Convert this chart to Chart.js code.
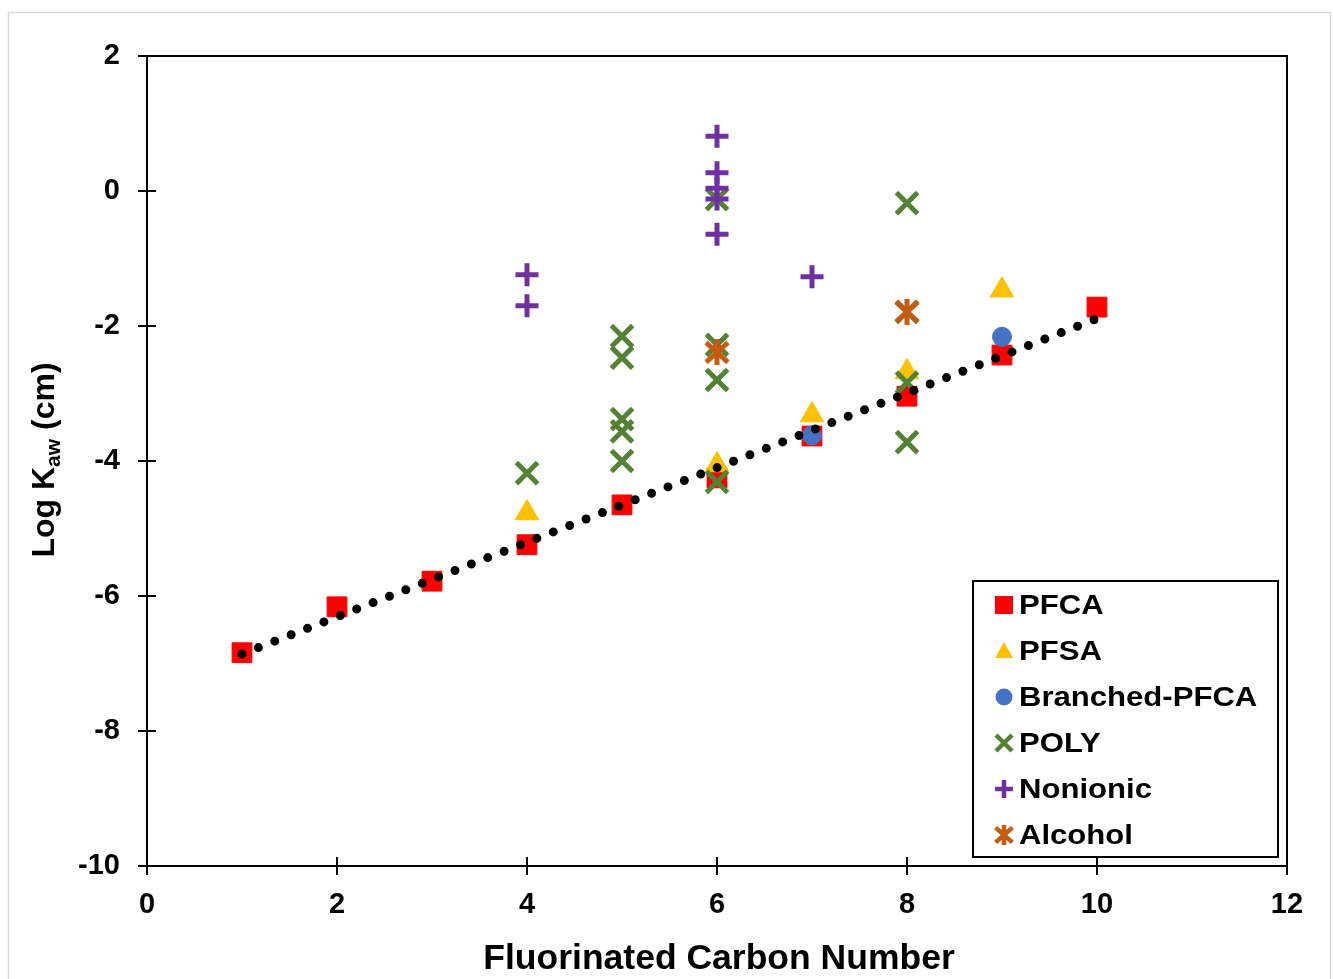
<!DOCTYPE html>
<html><head><meta charset="utf-8">
<script src="https://cdn.jsdelivr.net/npm/chart.js@4.4.1/dist/chart.umd.min.js"></script>
<style>html,body{margin:0;padding:0;background:#fff;}#wrap{position:relative;width:1333px;height:979px;}</style>
</head><body><div id="wrap"><canvas id="c" width="1333" height="979"></canvas></div>
<script>
// ---- data ----
const xTicks = [0, 2, 4, 6, 8, 10, 12];
const yTicks = [-10, -8, -6, -4, -2, 0, 2];
const xTitle = "Fluorinated Carbon Number";
const yTitleParts = ["Log K", "aw", " (cm)"];
const seriesNames = ["PFCA", "PFSA", "Branched-PFCA", "POLY", "Nonionic", "Alcohol"];

const pfcaX = [1, 2, 3, 4, 5, 6, 7, 8, 9, 10];
const pfcaY = [-6.84, -6.16, -5.78, -5.24, -4.65, -4.25, -3.63, -3.04, -2.43, -1.72];
const pfsaX = [4, 6, 7, 8, 9];
const pfsaY = [-4.77, -4.06, -3.32, -2.68, -1.47];
const branchedX = [7, 9];
const branchedY = [-3.62, -2.16];
const polyX = [4, 5, 5, 5, 5, 5, 6, 6, 6, 6, 8, 8, 8, 8];
const polyY = [-4.18, -2.15, -2.47, -3.38, -3.56, -4.00, -0.12, -2.28, -2.80, -4.31, -0.18, -1.79, -2.84, -3.72];
const nonionicX = [4, 4, 6, 6, 6, 6, 6, 7];
const nonionicY = [-1.24, -1.70, 0.81, 0.27, 0.04, -0.12, -0.64, -1.27];
const alcoholX = [6, 8];
const alcoholY = [-2.39, -1.79];
const trendX = [1, 10];
const trendY = [-6.86, -1.89];

// ---- styles ----
const COLORS = {pfca:'#FF0000', pfsa:'#FFC000', branched:'#4472C4', poly:'#548235', nonionic:'#7030A0', alcohol:'#C55A11'};
const FONT = "'Liberation Sans', Arial, Helvetica, sans-serif";

function pts(xs, ys){ return xs.map((x,i)=>({x:x, y:ys[i]})); }

function alcoholMarker(size, lw){
  const c = document.createElement('canvas');
  c.width = size; c.height = size;
  const g = c.getContext('2d');
  g.strokeStyle = COLORS.alcohol; g.lineWidth = lw;
  const p = size*0.08, q = size - p;
  g.beginPath();
  g.moveTo(p, p+1); g.lineTo(q, q-1);
  g.moveTo(q, p+1); g.lineTo(p, q-1);
  g.moveTo(size/2, 0); g.lineTo(size/2, size);
  g.stroke();
  return c;
}
const alcoholImg = alcoholMarker(26, 5);
const alcoholLegendImg = alcoholMarker(20, 4.5);

const datasets = [
  {label:seriesNames[0], data:pts(pfcaX,pfcaY), pointStyle:'rect', pointRadius:14, backgroundColor:COLORS.pfca, borderColor:COLORS.pfca, borderWidth:1, order:6, legendStyle:'rect', legendColor:COLORS.pfca},
  {label:seriesNames[1], data:pts(pfsaX,pfsaY), pointStyle:'triangle', pointRadius:13.5, backgroundColor:COLORS.pfsa, borderColor:COLORS.pfsa, borderWidth:1, order:5, legendStyle:'triangle', legendColor:COLORS.pfsa},
  {label:seriesNames[2], data:pts(branchedX,branchedY), pointStyle:'circle', pointRadius:9.5, backgroundColor:COLORS.branched, borderColor:COLORS.branched, borderWidth:1, order:4, legendStyle:'circle', legendColor:COLORS.branched},
  {label:seriesNames[3], data:pts(polyX,polyY), pointStyle:'crossRot', pointRadius:15, backgroundColor:COLORS.poly, borderColor:COLORS.poly, borderWidth:5, order:3, legendStyle:'crossRot', legendColor:COLORS.poly},
  {label:seriesNames[4], data:pts(nonionicX,nonionicY), pointStyle:'cross', pointRadius:11.5, backgroundColor:COLORS.nonionic, borderColor:COLORS.nonionic, borderWidth:5, order:2, legendStyle:'cross', legendColor:COLORS.nonionic},
  {label:seriesNames[5], data:pts(alcoholX,alcoholY), pointStyle:alcoholImg, pointRadius:13, backgroundColor:COLORS.alcohol, borderColor:COLORS.alcohol, borderWidth:5, order:1, legendStyle:'alcohol', legendColor:COLORS.alcohol},
  {label:'trend', data:pts(trendX,trendY), showLine:true, pointRadius:0, borderColor:'#000', borderWidth:9, borderDash:[0, 17.6], borderCapStyle:'round', fill:false, order:0, isTrend:true}
];

function drawLegendMarker(ctx, style, color, x, y){
  ctx.save();
  ctx.fillStyle = color; ctx.strokeStyle = color;
  if (style === 'rect') { ctx.fillRect(x-9, y-9, 18, 18); }
  else if (style === 'triangle') { ctx.beginPath(); ctx.moveTo(x, y-9); ctx.lineTo(x+9, y+7); ctx.lineTo(x-9, y+7); ctx.closePath(); ctx.fill(); }
  else if (style === 'circle') { ctx.beginPath(); ctx.arc(x, y, 8.5, 0, Math.PI*2); ctx.fill(); }
  else if (style === 'crossRot') { ctx.lineWidth = 4.5; ctx.beginPath(); ctx.moveTo(x-8,y-8); ctx.lineTo(x+8,y+8); ctx.moveTo(x+8,y-8); ctx.lineTo(x-8,y+8); ctx.stroke(); }
  else if (style === 'cross') { ctx.lineWidth = 4.5; ctx.beginPath(); ctx.moveTo(x-9,y); ctx.lineTo(x+9,y); ctx.moveTo(x,y-9); ctx.lineTo(x,y+9); ctx.stroke(); }
  else if (style === 'alcohol') { ctx.drawImage(alcoholLegendImg, x-10, y-10); }
  ctx.restore();
}

const decor = {
  id:'decor',
  beforeDraw(chart){
    const ctx = chart.ctx;
    ctx.save();
    ctx.fillStyle = '#fff'; ctx.fillRect(0,0,chart.width,chart.height);
    ctx.strokeStyle = '#D9D9D9'; ctx.lineWidth = 1.5;
    ctx.strokeRect(8.5, 12.5, 1322, 990);
    ctx.restore();
  },
  afterDraw(chart){
    const ctx = chart.ctx, a = chart.chartArea;
    const xs = chart.scales.x, ys = chart.scales.y;
    ctx.save();
    // plot frame
    ctx.strokeStyle = '#000'; ctx.lineWidth = 2;
    ctx.strokeRect(a.left, a.top, a.right - a.left, a.bottom - a.top);
    // inner tick marks (crossing ticks)
    ctx.beginPath();
    yTicks.forEach(v => { const p = ys.getPixelForValue(v); ctx.moveTo(a.left, p); ctx.lineTo(a.left + 9, p); });
    xTicks.forEach(v => { const p = xs.getPixelForValue(v); ctx.moveTo(p, a.bottom); ctx.lineTo(p, a.bottom - 9); });
    ctx.stroke();
    // x title
    ctx.fillStyle = '#000';
    ctx.font = 'bold 35.5px ' + FONT;
    ctx.textAlign = 'center'; ctx.textBaseline = 'alphabetic';
    ctx.fillText(xTitle, (a.left + a.right)/2 + 2, 969);
    // y title with subscript
    ctx.save();
    ctx.translate(54, (a.top + a.bottom)/2 - 1);
    ctx.rotate(-Math.PI/2);
    const big = 'bold 32px ' + FONT, small = 'bold 21px ' + FONT;
    ctx.font = big; const w0 = ctx.measureText(yTitleParts[0]).width, w2 = ctx.measureText(yTitleParts[2]).width;
    ctx.font = small; const w1 = ctx.measureText(yTitleParts[1]).width;
    let sx = -(w0 + w1 + w2)/2;
    ctx.textAlign = 'left';
    ctx.font = big; ctx.fillText(yTitleParts[0], sx, 0); sx += w0;
    ctx.font = small; ctx.fillText(yTitleParts[1], sx, 6); sx += w1;
    ctx.font = big; ctx.fillText(yTitleParts[2], sx, 0);
    ctx.restore();
    // legend
    const lx = 973, ly = 581, lw = 305, lh = 276;
    ctx.fillStyle = '#fff'; ctx.fillRect(lx, ly, lw, lh);
    ctx.strokeStyle = '#000'; ctx.lineWidth = 2; ctx.strokeRect(lx, ly, lw, lh);
    ctx.font = 'bold 28px ' + FONT; ctx.textAlign = 'left'; ctx.textBaseline = 'middle';
    chart.data.datasets.filter(d => !d.isTrend).forEach((d, i) => {
      const cy = 605 + i*46;
      drawLegendMarker(ctx, d.legendStyle, d.legendColor, 1004, cy);
      ctx.save();
      ctx.fillStyle = '#000';
      ctx.translate(1019, cy + 1);
      ctx.scale(1.11, 1);
      ctx.fillText(d.label, 0, 0);
      ctx.restore();
    });
    ctx.restore();
  }
};

const tickFont = {family:FONT, size:29, weight:'bold'};
new Chart(document.getElementById('c'), {
  type:'scatter',
  data:{datasets:datasets},
  options:{
    responsive:false, animation:false, events:[],
    layout:{padding:{top:56, right:46, left:0, bottom:0}},
    plugins:{legend:{display:false}, tooltip:{enabled:false}, title:{display:false}},
    scales:{
      x:{type:'linear', min:0, max:12,
        afterBuildTicks:s => { s.ticks = xTicks.map(v => ({value:v})); },
        afterFit:s => { s.height = 113; },
        ticks:{font:tickFont, color:'#000', padding:13},
        grid:{drawOnChartArea:false, drawTicks:true, tickLength:9, color:'#000', lineWidth:2},
        border:{color:'#000', width:2}},
      y:{type:'linear', min:-10, max:2,
        afterBuildTicks:s => { s.ticks = yTicks.map(v => ({value:v})); },
        afterFit:s => { s.width = 147; },
        ticks:{font:tickFont, color:'#000', padding:18},
        grid:{drawOnChartArea:false, drawTicks:true, tickLength:9, color:'#000', lineWidth:2},
        border:{color:'#000', width:2}}
    }
  },
  plugins:[decor]
});
</script></body></html>
